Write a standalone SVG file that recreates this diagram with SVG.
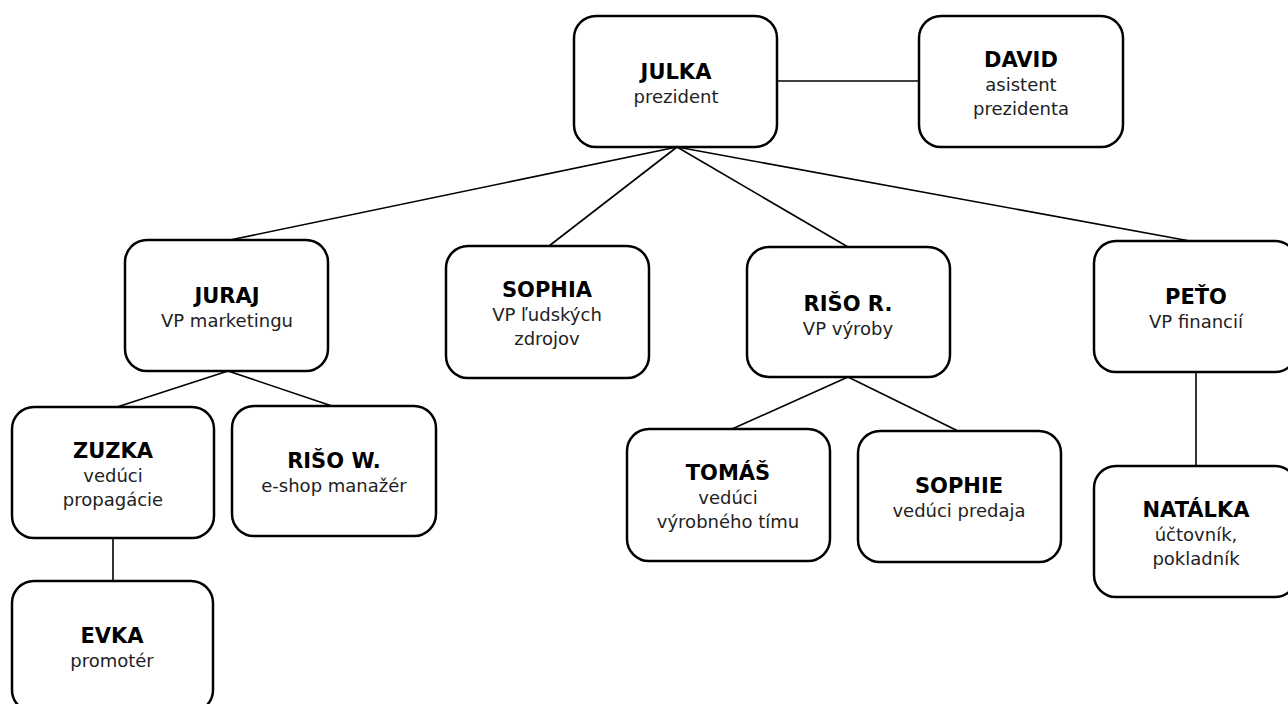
<svg xmlns="http://www.w3.org/2000/svg" width="1288" height="704" viewBox="0 0 1288 704">
<style>
.box{fill:#fff;stroke:#000;stroke-width:2.5}
.ln{stroke:#000;stroke-width:1.6;fill:none}
.t{font-family:"DejaVu Sans",sans-serif;font-weight:bold;font-size:21px;fill:#000;text-anchor:middle}
.s{font-family:"DejaVu Sans",sans-serif;font-size:18px;fill:#222;text-anchor:middle}
</style>
<rect width="1288" height="704" fill="#fff"/>
<g id="connectors">
<line class="ln" x1="777" y1="81" x2="919" y2="81"/>
<line class="ln" x1="677" y1="147" x2="230" y2="240"/>
<line class="ln" x1="677" y1="147" x2="549" y2="246"/>
<line class="ln" x1="677" y1="147" x2="848" y2="247"/>
<line class="ln" x1="677" y1="147" x2="1190" y2="241"/>
<line class="ln" x1="228" y1="371" x2="117" y2="407"/>
<line class="ln" x1="228" y1="371" x2="332" y2="406"/>
<line class="ln" x1="113" y1="538" x2="113" y2="581"/>
<line class="ln" x1="848" y1="377" x2="732" y2="429"/>
<line class="ln" x1="848" y1="377" x2="958" y2="431"/>
<line class="ln" x1="1196" y1="372" x2="1196" y2="466"/>
</g>
<g id="julka"><rect class="box" x="574" y="16" width="203" height="131" rx="22"/><text class="t" x="676" y="79">JULKA</text><text class="s" x="676" y="103">prezident</text></g>
<g id="david"><rect class="box" x="919" y="16" width="204" height="131" rx="22"/><text class="t" x="1021" y="67">DAVID</text><text class="s" x="1021" y="91">asistent</text><text class="s" x="1021" y="115">prezidenta</text></g>
<g id="juraj"><rect class="box" x="125" y="240" width="203" height="131" rx="22"/><text class="t" x="227" y="303">JURAJ</text><text class="s" x="227" y="327">VP marketingu</text></g>
<g id="sophia"><rect class="box" x="446" y="246" width="203" height="132" rx="22"/><text class="t" x="547" y="297">SOPHIA</text><text class="s" x="547" y="321">VP ľudských</text><text class="s" x="547" y="345">zdrojov</text></g>
<g id="riso-r"><rect class="box" x="747" y="247" width="203" height="130" rx="22"/><text class="t" x="848" y="311">RIŠO R.</text><text class="s" x="848" y="335">VP výroby</text></g>
<g id="peto"><rect class="box" x="1094" y="241" width="203" height="131" rx="22"/><text class="t" x="1196" y="304">PEŤO</text><text class="s" x="1196" y="328">VP financií</text></g>
<g id="zuzka"><rect class="box" x="12" y="407" width="202" height="131" rx="22"/><text class="t" x="113" y="458">ZUZKA</text><text class="s" x="113" y="482">vedúci</text><text class="s" x="113" y="506">propagácie</text></g>
<g id="riso-w"><rect class="box" x="232" y="406" width="204" height="130" rx="22"/><text class="t" x="334" y="468">RIŠO W.</text><text class="s" x="334" y="492">e-shop manažér</text></g>
<g id="evka"><rect class="box" x="12" y="581" width="201" height="131" rx="22"/><text class="t" x="112" y="643">EVKA</text><text class="s" x="112" y="667">promotér</text></g>
<g id="tomas"><rect class="box" x="627" y="429" width="203" height="132" rx="22"/><text class="t" x="728" y="480">TOMÁŠ</text><text class="s" x="728" y="504">vedúci</text><text class="s" x="728" y="528">výrobného tímu</text></g>
<g id="sophie"><rect class="box" x="858" y="431" width="203" height="131" rx="22"/><text class="t" x="959" y="493">SOPHIE</text><text class="s" x="959" y="517">vedúci predaja</text></g>
<g id="natalka"><rect class="box" x="1094" y="466" width="203" height="131" rx="22"/><text class="t" x="1196" y="517">NATÁLKA</text><text class="s" x="1196" y="541">účtovník,</text><text class="s" x="1196" y="565">pokladník</text></g>
</svg>
